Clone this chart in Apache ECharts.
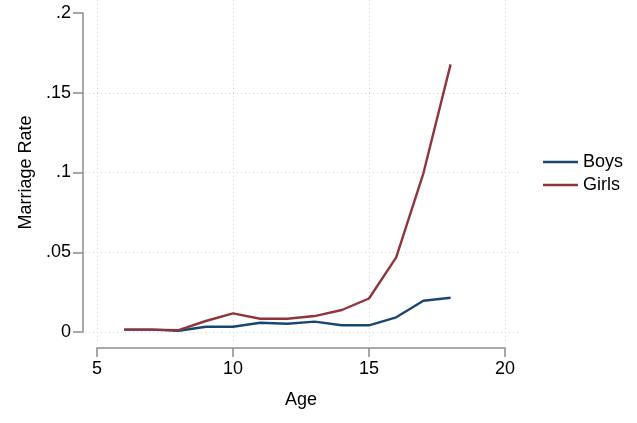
<!DOCTYPE html>
<html>
<head>
<meta charset="utf-8">
<script src="https://cdn.jsdelivr.net/npm/echarts@6/dist/echarts.min.js"></script>
<style>
html,body{margin:0;padding:0;background:#fff;}
#chart{width:637px;height:423px;}
</style>
</head>
<body>
<div id="chart"></div>
<script>
const ages = [6, 7, 8, 9, 10, 11, 12, 13, 14, 15, 16, 17, 18];
const boys = [0.0015, 0.0015, 0.0008, 0.0033, 0.0033, 0.0058, 0.0052, 0.0065, 0.0042, 0.0042, 0.0092, 0.0196, 0.0215];
const girls = [0.0015, 0.0015, 0.0012, 0.0069, 0.0117, 0.0083, 0.0083, 0.0100, 0.0138, 0.0210, 0.0468, 0.0995, 0.1678];
const xTicks = [5, 10, 15, 20];
const xTickLabels = ['5', '10', '15', '20'];
const yTicks = [0, 0.05, 0.1, 0.15, 0.2];
const yTickLabels = ['0', '.05', '.1', '.15', '.2'];
const yGridTicks = [0, 0.05, 0.1, 0.15];

const FONT = 'Liberation Sans';
const AXIS_COLOR = '#8c8c8c';
const GRID_COLOR = '#d4d4d4';

function yLabel(v) {
  for (let i = 0; i < yTicks.length; i++) if (Math.abs(yTicks[i] - v) < 1e-9) return yTickLabels[i];
  return '';
}
function xLabel(v) {
  for (let i = 0; i < xTicks.length; i++) if (Math.abs(xTicks[i] - v) < 1e-9) return xTickLabels[i];
  return '';
}

const chart = echarts.init(document.getElementById('chart'), null, {renderer: 'canvas'});
const pxPerX = (505 - 97) / 15;
const pxPerY = (332 - 13) / 0.2;

chart.setOption({
  animation: false,
  backgroundColor: '#fff',
  textStyle: {fontFamily: FONT},
  grid: [
    {left: 97, right: 132, top: 13, bottom: 91, containLabel: false},
    {left: 85, right: 118, top: 0, bottom: 79, containLabel: false}
  ],
  xAxis: [
    {
      type: 'value', gridIndex: 0, min: 5, max: 20, interval: 5, offset: 16,
      name: 'Age', nameLocation: 'middle', nameGap: 43,
      nameTextStyle: {fontFamily: FONT, fontSize: 18, color: '#000'},
      axisLine: {show: true, onZero: false, lineStyle: {color: AXIS_COLOR, width: 1.5}},
      axisTick: {show: true, length: 9, lineStyle: {color: AXIS_COLOR, width: 1.5}},
      axisLabel: {margin: 12, fontFamily: FONT, fontSize: 18, color: '#000', formatter: xLabel},
      splitLine: {show: false}
    },
    {
      type: 'value', gridIndex: 1, min: 5 - 12 / pxPerX, max: 20 + 14 / pxPerX,
      axisLine: {show: false}, axisLabel: {show: false},
      axisTick: {show: false, customValues: xTicks},
      splitLine: {show: true, lineStyle: {color: GRID_COLOR, type: [1, 3], width: 1}}
    }
  ],
  yAxis: [
    {
      type: 'value', gridIndex: 0, min: 0, max: 0.2, interval: 0.05, offset: 14,
      name: 'Marriage Rate', nameLocation: 'middle', nameGap: 48,
      nameTextStyle: {fontFamily: FONT, fontSize: 18, color: '#000'},
      axisLine: {show: true, onZero: false, lineStyle: {color: AXIS_COLOR, width: 1.5}},
      axisTick: {show: true, length: 10, lineStyle: {color: AXIS_COLOR, width: 1.5}},
      axisLabel: {margin: 12, fontFamily: FONT, fontSize: 18, color: '#000', formatter: yLabel},
      splitLine: {show: false}
    },
    {
      type: 'value', gridIndex: 1, min: -12 / pxPerY, max: 0.2 + 13 / pxPerY,
      axisLine: {show: false}, axisLabel: {show: false},
      axisTick: {show: false, customValues: yGridTicks},
      splitLine: {show: true, lineStyle: {color: GRID_COLOR, type: [1, 3], width: 1}}
    }
  ],
  legend: {
    orient: 'vertical', left: 538, top: 148, itemWidth: 35, itemHeight: 2.5, itemGap: 5,
    icon: 'rect',
    textStyle: {fontFamily: FONT, fontSize: 18, color: '#000'},
    data: ['Boys', 'Girls']
  },
  series: [
    {
      name: 'Boys', type: 'line', xAxisIndex: 0, yAxisIndex: 0, symbol: 'none',
      lineStyle: {color: '#1a476f', width: 2.4}, itemStyle: {color: '#1a476f'},
      data: ages.map((a, i) => [a, boys[i]])
    },
    {
      name: 'Girls', type: 'line', xAxisIndex: 0, yAxisIndex: 0, symbol: 'none',
      lineStyle: {color: '#90353b', width: 2.4}, itemStyle: {color: '#90353b'},
      data: ages.map((a, i) => [a, girls[i]])
    }
  ]
});
</script>
</body>
</html>
